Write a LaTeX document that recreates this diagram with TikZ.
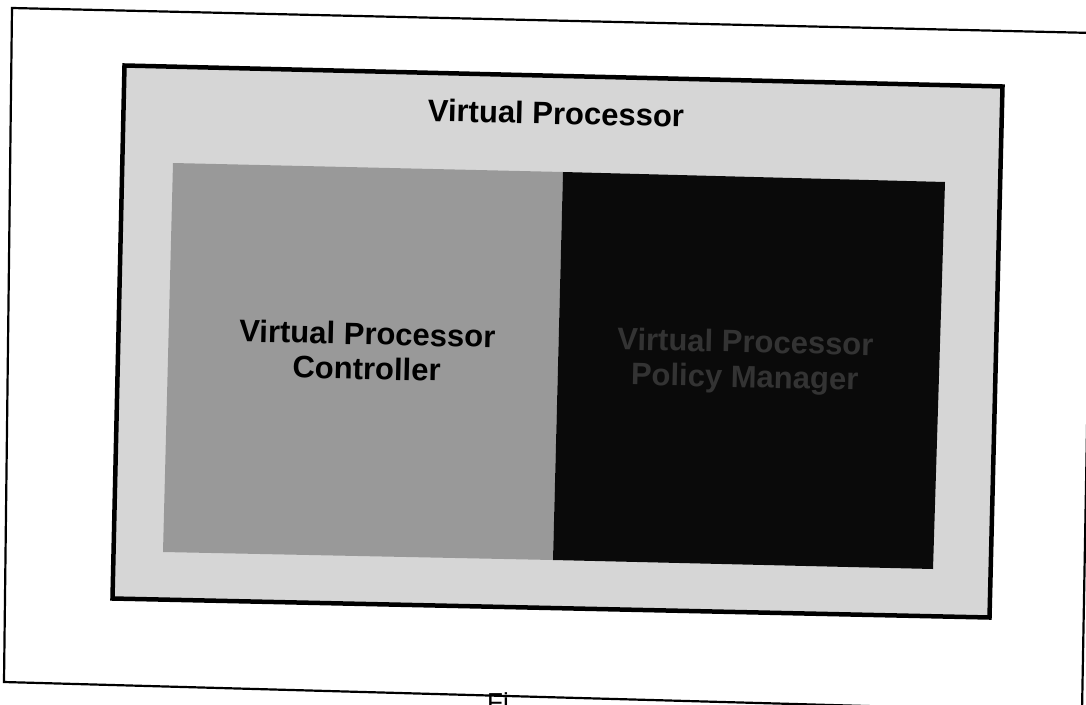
\documentclass[tikz,border=0pt]{standalone}
\usepackage{fontspec}
\setmainfont{Liberation Sans}
\definecolor{vplight}{gray}{0.84}
\definecolor{vpmid}{gray}{0.6}
\definecolor{vpdark}{gray}{0.04}
\definecolor{vpdarktext}{gray}{0.2}
\begin{document}
\begin{tikzpicture}[x=1pt,y=-1pt,
  pageframe/.style={draw=black,line width=2.2pt},
  vpbox/.style={draw=black,line width=4.5pt,fill=vplight},
  ctrlbox/.style={fill=vpmid},
  policybox/.style={fill=vpdark},
  bigtext/.style={font=\bfseries\fontsize{31}{35}\selectfont,align=center,rotate=-1.3,inner sep=0pt}]
\useasboundingbox (0,0) rectangle (1086,704);
\fill[white] (0,0) rectangle (1086,704);
% outer page frame
\draw[pageframe] (12,8) -- (1094,33) -- (1082,712) -- (4,682) -- cycle;
% virtual processor box
\filldraw[vpbox] (124.5,65.5) -- (1002.5,86.5) -- (989.5,617.5) -- (112.5,598.5) -- cycle;
% controller box
\fill[ctrlbox] (173,163) -- (563,172) -- (553,560) -- (163,552) -- cycle;
% policy manager box
\fill[policybox] (563,172) -- (945,182) -- (933,569) -- (553,560) -- cycle;
% texts
\node[bigtext] (title) at (556,113) {Virtual Processor};
\node[bigtext] (ctrl) at (367,351) {Virtual Processor\\Controller};
\node[bigtext,text=vpdarktext] (policy) at (745,362) {Virtual Processor\\Policy Manager};
\node[font=\fontsize{26}{26}\selectfont,anchor=north,inner sep=0pt] (caption) at (498,692) {Fi};
\end{tikzpicture}
\end{document}
